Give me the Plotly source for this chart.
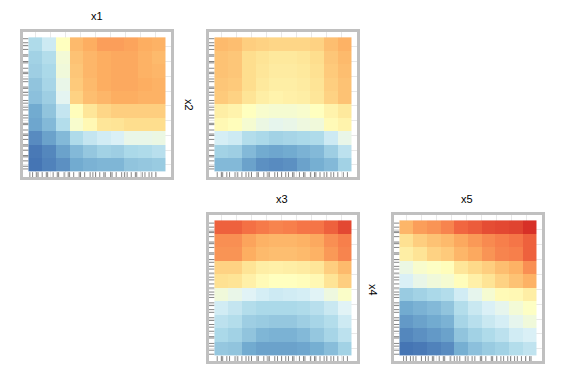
import plotly.graph_objects as go

# ---------------- data ----------------
cell_centers = [0.05, 0.15, 0.25, 0.35, 0.45, 0.55, 0.65, 0.75, 0.85, 0.95]

# partial dependence values (rows listed top -> bottom), colour index 0..1
pd_x1_x2 = [
    [0.26, 0.33, 0.50, 0.72, 0.75, 0.78, 0.78, 0.77, 0.75, 0.74],
    [0.23, 0.27, 0.45, 0.70, 0.73, 0.75, 0.76, 0.76, 0.74, 0.72],
    [0.22, 0.25, 0.44, 0.69, 0.73, 0.75, 0.76, 0.76, 0.74, 0.73],
    [0.19, 0.24, 0.41, 0.68, 0.72, 0.75, 0.76, 0.76, 0.75, 0.74],
    [0.18, 0.22, 0.39, 0.66, 0.71, 0.73, 0.75, 0.75, 0.74, 0.74],
    [0.12, 0.19, 0.31, 0.51, 0.60, 0.65, 0.67, 0.67, 0.67, 0.67],
    [0.11, 0.16, 0.27, 0.47, 0.53, 0.60, 0.61, 0.63, 0.63, 0.63],
    [0.05, 0.10, 0.16, 0.26, 0.31, 0.34, 0.36, 0.41, 0.41, 0.42],
    [0.01, 0.04, 0.10, 0.16, 0.20, 0.23, 0.22, 0.25, 0.26, 0.28],
    [0.00, 0.03, 0.06, 0.12, 0.14, 0.15, 0.15, 0.19, 0.20, 0.21],
]
pd_x3_x2 = [
    [0.72, 0.71, 0.67, 0.66, 0.65, 0.65, 0.65, 0.66, 0.71, 0.74],
    [0.70, 0.69, 0.63, 0.61, 0.59, 0.59, 0.60, 0.63, 0.69, 0.72],
    [0.70, 0.69, 0.63, 0.60, 0.58, 0.58, 0.59, 0.62, 0.68, 0.71],
    [0.69, 0.68, 0.63, 0.59, 0.57, 0.57, 0.58, 0.61, 0.67, 0.70],
    [0.68, 0.66, 0.61, 0.57, 0.55, 0.56, 0.57, 0.60, 0.66, 0.70],
    [0.57, 0.55, 0.50, 0.47, 0.46, 0.46, 0.47, 0.50, 0.55, 0.59],
    [0.53, 0.51, 0.46, 0.42, 0.40, 0.41, 0.43, 0.44, 0.52, 0.55],
    [0.35, 0.33, 0.27, 0.25, 0.23, 0.24, 0.25, 0.26, 0.33, 0.41],
    [0.23, 0.22, 0.16, 0.12, 0.11, 0.12, 0.14, 0.16, 0.22, 0.29],
    [0.16, 0.16, 0.10, 0.06, 0.05, 0.06, 0.10, 0.13, 0.16, 0.23],
]
pd_x3_x4 = [
    [0.90, 0.90, 0.87, 0.85, 0.83, 0.84, 0.86, 0.86, 0.90, 0.95],
    [0.81, 0.81, 0.77, 0.74, 0.73, 0.73, 0.74, 0.76, 0.81, 0.84],
    [0.80, 0.80, 0.75, 0.72, 0.71, 0.71, 0.72, 0.74, 0.79, 0.83],
    [0.66, 0.66, 0.61, 0.57, 0.56, 0.57, 0.58, 0.60, 0.67, 0.72],
    [0.62, 0.61, 0.56, 0.52, 0.50, 0.50, 0.51, 0.53, 0.61, 0.67],
    [0.44, 0.41, 0.38, 0.35, 0.33, 0.34, 0.35, 0.38, 0.43, 0.48],
    [0.34, 0.31, 0.27, 0.25, 0.25, 0.25, 0.26, 0.28, 0.32, 0.38],
    [0.29, 0.27, 0.22, 0.21, 0.20, 0.20, 0.22, 0.24, 0.27, 0.33],
    [0.25, 0.23, 0.19, 0.15, 0.14, 0.14, 0.16, 0.20, 0.24, 0.29],
    [0.20, 0.19, 0.12, 0.10, 0.10, 0.10, 0.11, 0.13, 0.17, 0.23],
]
pd_x5_x4 = [
    [0.73, 0.78, 0.80, 0.83, 0.89, 0.91, 0.94, 0.95, 0.96, 1.00],
    [0.62, 0.67, 0.70, 0.72, 0.76, 0.79, 0.82, 0.84, 0.86, 0.90],
    [0.57, 0.61, 0.66, 0.68, 0.73, 0.76, 0.80, 0.83, 0.84, 0.90],
    [0.42, 0.47, 0.49, 0.51, 0.60, 0.64, 0.67, 0.71, 0.74, 0.81],
    [0.36, 0.41, 0.44, 0.46, 0.51, 0.56, 0.61, 0.66, 0.70, 0.74],
    [0.21, 0.23, 0.25, 0.27, 0.34, 0.40, 0.46, 0.52, 0.53, 0.57],
    [0.12, 0.14, 0.16, 0.19, 0.27, 0.32, 0.36, 0.40, 0.45, 0.49],
    [0.08, 0.10, 0.12, 0.14, 0.24, 0.28, 0.32, 0.35, 0.40, 0.44],
    [0.04, 0.06, 0.08, 0.10, 0.19, 0.23, 0.26, 0.29, 0.34, 0.36],
    [0.00, 0.01, 0.03, 0.05, 0.13, 0.18, 0.21, 0.23, 0.27, 0.30],
]

# rug (observed feature values)
rug_x1 = [0.01, 0.03, 0.06, 0.07, 0.10, 0.13, 0.14, 0.18, 0.21, 0.22, 0.26, 0.29, 0.30, 0.33,
          0.37, 0.38, 0.41, 0.45, 0.47, 0.49, 0.52, 0.55, 0.56, 0.60, 0.61, 0.64, 0.68, 0.70,
          0.72, 0.75, 0.78, 0.79, 0.83, 0.85, 0.88, 0.90, 0.93]
rug_x2 = [0.02, 0.04, 0.08, 0.11, 0.12, 0.16, 0.19, 0.20, 0.24, 0.27, 0.28, 0.31, 0.35, 0.36,
          0.40, 0.42, 0.46, 0.48, 0.51, 0.53, 0.57, 0.59, 0.62, 0.63, 0.67, 0.69, 0.73, 0.74,
          0.77, 0.81, 0.82, 0.86, 0.87, 0.91, 0.94, 0.96, 0.99]
rug_x3 = [0.02, 0.05, 0.06, 0.09, 0.11, 0.15, 0.17, 0.20, 0.23, 0.25, 0.27, 0.31, 0.32, 0.36,
          0.39, 0.40, 0.44, 0.46, 0.49, 0.52, 0.54, 0.57, 0.58, 0.62, 0.65, 0.66, 0.70, 0.73,
          0.74, 0.77, 0.80, 0.82, 0.85, 0.87, 0.90, 0.94, 0.97]
rug_x4 = [0.01, 0.04, 0.07, 0.09, 0.13, 0.14, 0.18, 0.21, 0.23, 0.26, 0.28, 0.32, 0.34, 0.37,
          0.39, 0.43, 0.45, 0.47, 0.50, 0.53, 0.56, 0.58, 0.61, 0.64, 0.66, 0.69, 0.71, 0.75,
          0.76, 0.80, 0.83, 0.84, 0.88, 0.91, 0.92, 0.95, 0.98]
rug_x5 = [0.03, 0.05, 0.08, 0.10, 0.12, 0.16, 0.19, 0.21, 0.24, 0.25, 0.29, 0.32, 0.33, 0.37,
          0.40, 0.42, 0.44, 0.48, 0.50, 0.53, 0.55, 0.59, 0.60, 0.63, 0.67, 0.68, 0.71, 0.74,
          0.76, 0.79, 0.81, 0.84, 0.86, 0.89, 0.92, 0.95, 0.96]

feature_labels = ["x1", "x2", "x3", "x4", "x5"]

# ---------------- styling ----------------
colorscale = [
    [0.000, "#4575b4"], [0.125, "#74add1"], [0.250, "#abd9e9"], [0.375, "#e0f3f8"],
    [0.500, "#ffffbf"], [0.625, "#fee090"], [0.750, "#fdae61"], [0.875, "#f46d43"],
    [1.000, "#d73027"],
]
W, H = 562, 381
OFF = 8  # page body margin offset
cols_px = [(23, 171), (209, 357), (394, 542)]
rows_px = [(32, 177), (215, 361)]

panels = [
    # (z, xrug, yrug, col, row)
    (pd_x1_x2, rug_x1, rug_x2, 0, 0),
    (pd_x3_x2, rug_x3, rug_x2, 1, 0),
    (pd_x3_x4, rug_x3, rug_x4, 1, 1),
    (pd_x5_x4, rug_x5, rug_x4, 2, 1),
]

fig = go.Figure()
rug_color = "rgba(70,70,70,0.65)"
for i, (z, xr, yr, c, r) in enumerate(panels):
    n = "" if i == 0 else str(i + 1)
    xa, ya = "x" + n, "y" + n
    fig.add_trace(go.Heatmap(
        z=z[::-1], x=cell_centers, y=cell_centers, zmin=0, zmax=1,
        colorscale=colorscale, showscale=False, xaxis=xa, yaxis=ya,
        hoverinfo="skip"))
    fig.add_trace(go.Scatter(
        x=xr, y=[-0.022] * len(xr), mode="markers", xaxis=xa, yaxis=ya,
        marker=dict(symbol="line-ns", size=3.5, line=dict(width=1, color=rug_color)),
        showlegend=False, hoverinfo="skip", cliponaxis=False))
    fig.add_trace(go.Scatter(
        x=[-0.022] * len(yr), y=yr, mode="markers", xaxis=xa, yaxis=ya,
        marker=dict(symbol="line-ew", size=4, line=dict(width=1, color=rug_color)),
        showlegend=False, hoverinfo="skip", cliponaxis=False))
    x0, x1 = cols_px[c]
    y0, y1 = rows_px[r]
    x0, x1, y0, y1 = x0 - OFF, x1 - OFF, y0 - OFF, y1 - OFF
    axis_common = dict(
        range=[-0.04, 1.04], showticklabels=False, ticks="", zeroline=False,
        showgrid=True, gridcolor="#e8e8e8", gridwidth=1, tick0=0.05, dtick=0.11,
        showline=True, linewidth=3, linecolor="#c0c0c0", mirror=True, fixedrange=True)
    fig.update_layout(**{
        ("xaxis" + n): dict(domain=[x0 / W, x1 / W], anchor=ya, **axis_common),
        ("yaxis" + n): dict(domain=[1 - y1 / H, 1 - y0 / H], anchor=xa, **axis_common),
    })

label_font = dict(family="Liberation Sans, Arial, sans-serif", size=11, color="#000000")
annots = [
    (feature_labels[0], 97, 16, 0),
    (feature_labels[1], 189, 105, 90),
    (feature_labels[2], 282, 199, 0),
    (feature_labels[4], 467, 199, 0),
    (feature_labels[3], 373, 290, 90),
]
for text, px, py, ang in annots:
    fig.add_annotation(text=text, x=(px - OFF) / W, y=1 - (py - OFF) / H,
                       xref="paper", yref="paper",
                       showarrow=False, textangle=ang, font=label_font,
                       xanchor="center", yanchor="middle")

fig.update_layout(
    width=W, height=H, margin=dict(l=0, r=0, t=0, b=0),
    paper_bgcolor="white", plot_bgcolor="white", showlegend=False)

fig.write_html("out.html")
